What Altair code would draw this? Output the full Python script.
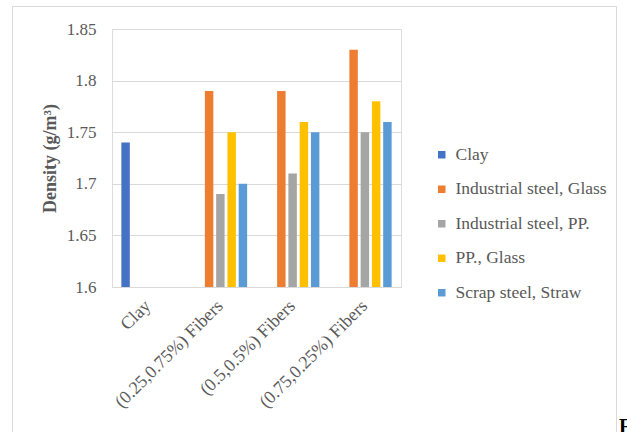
import altair as alt
import pandas as pd

# Mix designs on the x axis and fibre combinations as series
categories = ["Clay", "(0.25,0.75%) Fibers", "(0.5,0.5%) Fibers", "(0.75,0.25%) Fibers"]
series = ["Clay", "Industrial steel, Glass", "Industrial steel, PP.", "PP., Glass", "Scrap steel, Straw"]
colors = ["#4472C4", "#ED7D31", "#A5A5A5", "#FFC000", "#5B9BD5"]

# Density (g/m3) per category; None where a series has no bar
clay_vals = [1.74, None, None, None]
ind_glass = [None, 1.79, 1.79, 1.83]
ind_pp = [None, 1.69, 1.71, 1.75]
pp_glass = [None, 1.75, 1.76, 1.78]
scrap_straw = [None, 1.70, 1.75, 1.76]

y_ticks = [1.6, 1.65, 1.7, 1.75, 1.8, 1.85]

rows = []
for name, vals in zip(series, [clay_vals, ind_glass, ind_pp, pp_glass, scrap_straw]):
    for cat, v in zip(categories, vals):
        if v is not None:
            rows.append({"group": cat, "series": name, "density": v})
df = pd.DataFrame(rows)

FONT = "Liberation Serif"
TEXT = "#595959"
GRID = "#D9D9D9"

bars = alt.Chart(df).mark_bar().encode(
    x=alt.X(
        "group:N",
        sort=categories,
        scale=alt.Scale(paddingInner=0.22, paddingOuter=0.11),
        axis=alt.Axis(
            title=None,
            labelAngle=-45,
            labelAlign="right",
            labelBaseline="middle",
            labelPadding=16,
            labelFont=FONT,
            labelFontSize=18,
            labelColor=TEXT,
            ticks=False,
            domainColor=GRID,
            labelLimit=300,
        ),
    ),
    xOffset=alt.XOffset(
        "series:N",
        sort=series,
        scale=alt.Scale(domain=series, paddingInner=0.25, paddingOuter=0.125),
    ),
    y=alt.Y(
        "density:Q",
        scale=alt.Scale(domain=[1.6, 1.85], zero=False, nice=False),
        axis=alt.Axis(
            title="Density (g/m³)",
            values=y_ticks,
            format=".2~f",
            grid=True,
            gridColor=GRID,
            domain=False,
            ticks=False,
            labelFont=FONT,
            labelFontSize=17,
            labelColor=TEXT,
            labelPadding=16,
            titleFont=FONT,
            titleFontSize=18,
            titleFontWeight="bold",
            titleColor=TEXT,
            titlePadding=7,
        ),
    ),
    y2=alt.Y2(datum=1.6),
    color=alt.Color(
        "series:N",
        sort=series,
        scale=alt.Scale(domain=series, range=colors),
        legend=alt.Legend(
            title=None,
            orient="none",
            legendX=321,
            legendY=117,
            symbolType="square",
            symbolSize=56,
            symbolStrokeWidth=0,
            symbolOpacity=1,
            labelFont=FONT,
            labelFontSize=17.5,
            labelColor=TEXT,
            labelOffset=5,
            rowPadding=15.5,
            labelLimit=300,
        ),
    ),
)

# Chart border
frame = alt.Chart(pd.DataFrame({"k": [0]})).mark_rect(
    fill=None, stroke=GRID, strokeWidth=1
).encode(
    x=alt.value(-99.5), x2=alt.value(504.5), y=alt.value(-22.5), y2=alt.value(440)
)

# Start of the caption below the chart
caption = alt.Chart(pd.DataFrame({"t": ["F"]})).mark_text(
    font=FONT, fontSize=20, fontWeight="bold", color="#000000", align="left", baseline="alphabetic"
).encode(text="t:N", x=alt.value(507), y=alt.value(404))

chart = alt.layer(frame, bars, caption).properties(
    width=289,
    height=258,
    autosize=alt.AutoSizeParams(type="none"),
    padding={"left": 112, "top": 29, "right": 226, "bottom": 145},
).configure_view(stroke=None).configure(background="white")

chart.save("out.html", embed_options={"renderer": "svg", "actions": False})
